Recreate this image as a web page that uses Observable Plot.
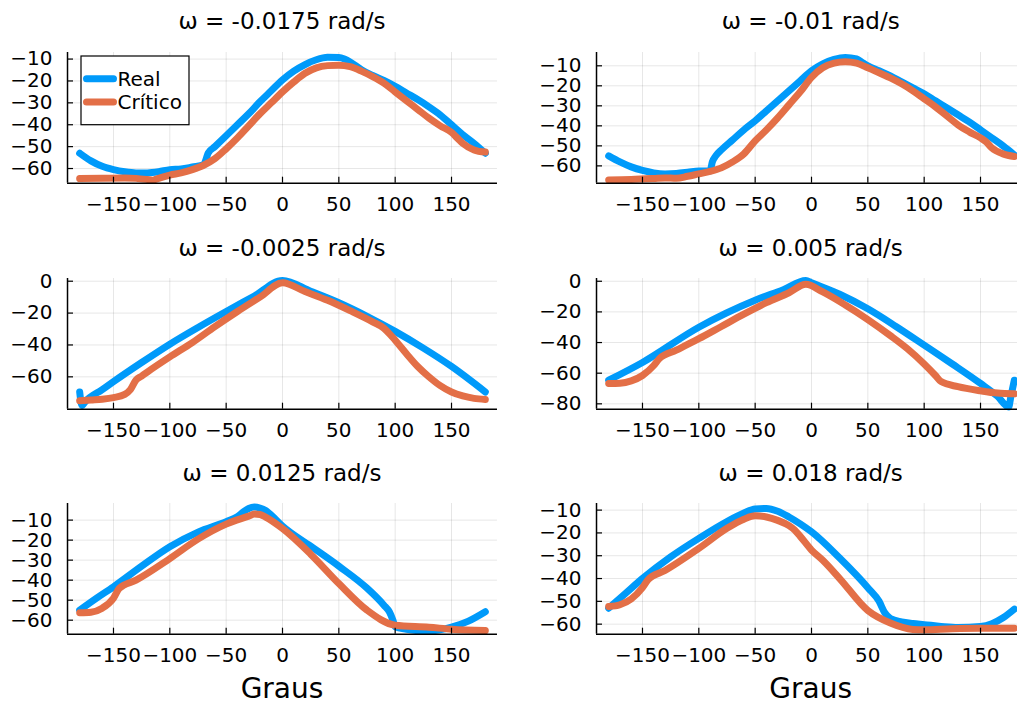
<!DOCTYPE html>
<html>
<head>
<meta charset="utf-8">
<script src="https://cdn.jsdelivr.net/npm/d3@7"></script>
<script src="https://cdn.jsdelivr.net/npm/@observablehq/plot@0.6"></script>
<style>
  html, body { margin: 0; padding: 0; background: #fff; overflow: hidden; }
  #root { position: relative; width: 1017px; height: 704px; overflow: hidden; font-family: "DejaVu Sans", sans-serif; }
  .panel { position: absolute; }
  .panel svg { max-width: none !important; }
  #overlay { position: absolute; left: 0; top: 0; pointer-events: none; }
</style>
</head>
<body>
<div id="root"></div>
<script>
// ---------- data ----------
const titles = ["ω = -0.0175 rad/s", "ω = -0.01 rad/s", "ω = -0.0025 rad/s", "ω = 0.005 rad/s", "ω = 0.0125 rad/s", "ω = 0.018 rad/s"];
const seriesNames = ["Real", "Crítico"];
const xLabel = "Graus";
const xTicks = [-150, -100, -50, 0, 50, 100, 150];
const xDomain = [-190.8, 190.8];

const yTicks1 = [-60, -50, -40, -30, -20, -10];
const yTicks3 = [-60, -40, -20, 0];
const yTicks4 = [-80, -60, -40, -20, 0];
const yDomain1 = [-66.7, -7.0];
const yDomain2 = [-68.65, -3.35];
const yDomain3 = [-80.3, 1.7];
const yDomain4 = [-83.5, 1.8];
const yDomain5 = [-67, -1.7];
const yDomain6 = [-64.4, -7.1];

// panel 1: ω = -0.0175
const p1RealX = [-180,-170,-160,-150,-140,-130,-120,-110,-100,-90,-80,-70,-68,-66,-60,-50,-40,-30,-20,-10,0,10,20,30,40,50,55,60,65,70,80,90,100,110,120,130,140,150,160,170,180];
const p1RealY = [-53,-56.5,-59,-60.5,-61.5,-62,-62,-61.5,-60.5,-60.2,-59.3,-58.3,-56,-53,-50,-45,-40,-35,-29.5,-24.5,-19.5,-15.5,-12.5,-10.3,-9.2,-9.3,-10,-11.3,-13,-14.8,-17.5,-19.8,-22.5,-25.5,-28.5,-31.8,-35.5,-40,-44.5,-48.5,-53];
const p1CritX = [-180,-160,-140,-130,-120,-115,-110,-100,-90,-80,-70,-60,-50,-40,-30,-20,-10,0,10,20,30,40,50,60,70,80,90,100,110,120,130,140,150,155,160,170,180];
const p1CritY = [-64.6,-64.4,-64.3,-64.5,-65,-65.3,-64.5,-63,-62,-60.5,-58.5,-55.5,-51,-46,-40.5,-35,-30,-25,-20.5,-16.5,-14,-13,-12.8,-13.5,-15.5,-18,-21,-25,-29,-33,-37,-40.5,-43.5,-46,-48.5,-51.5,-52.5];

// panel 2: ω = -0.01
const p2RealX = [-180,-170,-160,-150,-140,-130,-120,-110,-100,-90,-88,-85,-80,-70,-60,-50,-40,-30,-20,-10,0,10,20,30,40,45,50,60,70,80,90,100,110,120,130,140,150,160,170,180];
const p2RealY = [-55,-58,-60.5,-62.3,-63.5,-64,-63.8,-63.2,-62.5,-62.5,-58,-55,-52,-47,-42,-37.5,-32.5,-27.5,-22.5,-17.5,-12.5,-9,-6.8,-5.8,-6.5,-8.3,-10,-12.5,-15,-18,-21,-24,-27.5,-31,-34.5,-38,-42,-46,-50,-54.5];
const p2CritX = [-180,-160,-140,-130,-120,-110,-100,-90,-80,-70,-60,-50,-40,-30,-20,-10,0,10,20,30,40,50,60,70,80,90,100,110,120,130,140,150,155,160,170,180];
const p2CritY = [-67,-66.8,-66.3,-66,-66.2,-65.2,-64,-62.8,-61,-58,-54,-47.5,-42,-36,-29.5,-23,-15.8,-11,-8.7,-8,-8.7,-11,-13.5,-16,-19,-22.5,-26.5,-30.5,-35,-39.5,-43,-46,-48,-51,-54,-55.3];

// panel 3: ω = -0.0025
const p3RealX = [-180,-178,-175,-160,-150,-125,-100,-75,-50,-25,0,25,50,75,100,125,150,180];
const p3RealY = [-69.5,-78,-75.5,-68,-63,-51,-39.5,-29,-19,-9.3,0.5,-6.3,-13.5,-22,-31.5,-42,-53.5,-69.5];
const p3CritX = [-180,-170,-160,-150,-140,-135,-130,-125,-120,-100,-80,-60,-40,-20,0,20,40,60,80,90,95,100,110,120,130,140,150,160,170,180];
const p3CritY = [-75,-74.5,-74,-73,-71,-68,-62,-59.5,-57,-47.5,-38.5,-28.5,-19,-10,-1,-6.5,-12,-18.5,-25.5,-29.5,-33,-37,-45.5,-53.5,-60,-65.5,-69.5,-72,-73.5,-74.2];

// panel 4: ω = 0.005
const p4RealX = [-180,-150,-100,-50,-25,-5,0,25,50,75,100,125,150,165,175,177,180];
const p4RealY = [-64.6,-53,-30,-12.4,-5.5,0.5,-1,-8.5,-18,-29.5,-41.7,-54,-66.7,-75,-82,-75,-64.6];
const p4CritX = [-180,-170,-160,-150,-140,-135,-120,-100,-80,-60,-40,-20,-5,10,30,50,70,85,100,110,115,130,150,165,180];
const p4CritY = [-66.7,-66.5,-65,-61.5,-55,-50.5,-45,-37.5,-29.5,-21.5,-14,-7.5,-2,-7,-15.5,-25,-35.5,-44,-54,-61.5,-65.5,-68.8,-71.5,-73,-73.5];

// panel 5: ω = 0.0125
const p5RealX = [-180,-165,-150,-125,-100,-75,-50,-40,-35,-30,-25,-20,-15,-10,0,25,50,75,90,95,98,100,110,130,150,165,180];
const p5RealY = [-55,-49,-43.3,-33,-23.3,-16,-10.8,-8.3,-6,-4.2,-3.5,-4,-5.2,-7.5,-13,-23,-33,-44,-52.5,-56,-60,-63.3,-64.5,-65.5,-63.5,-60.5,-55.8];
const p5CritX = [-180,-170,-160,-150,-145,-130,-100,-75,-50,-30,-25,-20,-15,0,25,50,75,100,130,150,180];
const p5CritY = [-56.3,-56,-54,-49,-44.2,-40,-29.2,-19.5,-12,-8,-7,-7.2,-8.5,-14.2,-27,-41.7,-55,-62.5,-63.5,-64.5,-65.2];

// panel 6: ω = 0.018
const p6RealX = [-180,-165,-150,-125,-100,-75,-60,-50,-40,-30,-20,-10,0,25,50,60,65,70,80,90,100,115,130,150,160,170,180];
const p6RealY = [-53,-46.5,-40,-30.5,-22.4,-15,-11.3,-9.5,-9.3,-10.5,-13,-16,-19.5,-31,-44,-50,-55,-57.5,-59,-59.7,-60.2,-61,-61.5,-61,-59.8,-57.2,-53.4];
const p6CritX = [-180,-170,-160,-150,-145,-130,-100,-75,-60,-50,-40,-30,-20,-15,-10,0,10,25,50,70,90,100,125,150,180];
const p6CritY = [-52.3,-51.5,-49,-44,-40.5,-36.5,-26.8,-18,-14,-12.5,-13,-14.5,-16.8,-18.7,-21.5,-27.5,-32,-40,-54,-59.5,-62.3,-62.5,-62,-61.8,-61.8];

// ---------- layout / style ----------
const BLUE = "#009AFA", ORANGE = "#E36F47";
const colLeft = [67, 595.7];
const rowTop = [51.7, 278.3, 503.3];
const plotW = 430, plotH = 130.7;
const M = {left: 67, right: 10, top: 10, bottom: 50};

const panels = [
  {realX: p1RealX, realY: p1RealY, critX: p1CritX, critY: p1CritY, yDomain: yDomain1, yTicks: yTicks1},
  {realX: p2RealX, realY: p2RealY, critX: p2CritX, critY: p2CritY, yDomain: yDomain2, yTicks: yTicks1},
  {realX: p3RealX, realY: p3RealY, critX: p3CritX, critY: p3CritY, yDomain: yDomain3, yTicks: yTicks3},
  {realX: p4RealX, realY: p4RealY, critX: p4CritX, critY: p4CritY, yDomain: yDomain4, yTicks: yTicks4},
  {realX: p5RealX, realY: p5RealY, critX: p5CritX, critY: p5CritY, yDomain: yDomain5, yTicks: yTicks1},
  {realX: p6RealX, realY: p6RealY, critX: p6CritX, critY: p6CritY, yDomain: yDomain6, yTicks: yTicks1},
];

const fmt = d => String(d).replace("-", "\u2212");
const toRows = (xs, ys) => xs.map((x, i) => ({x, y: ys[i]}));

const root = document.getElementById("root");
const W = M.left + plotW + M.right, H = M.top + plotH + M.bottom;

panels.forEach((p, i) => {
  const col = i % 2, row = Math.floor(i / 2);
  const chart = Plot.plot({
    width: W,
    height: H,
    marginLeft: M.left, marginRight: M.right, marginTop: M.top, marginBottom: M.bottom,
    style: {fontSize: "20px", fontFamily: "DejaVu Sans, sans-serif", color: "#000", background: "transparent", overflow: "visible", maxWidth: "none"},
    x: {domain: xDomain, label: null},
    y: {domain: p.yDomain, label: null},
    marks: [
      Plot.gridX(xTicks, {stroke: "#000", strokeOpacity: 0.1, strokeWidth: 1}),
      Plot.gridY(p.yTicks, {stroke: "#000", strokeOpacity: 0.1, strokeWidth: 1}),
      Plot.line(toRows(p.realX, p.realY), {x: "x", y: "y", stroke: BLUE, strokeWidth: 7, curve: "monotone-x", strokeLinecap: "round", strokeLinejoin: "round"}),
      Plot.line(toRows(p.critX, p.critY), {x: "x", y: "y", stroke: ORANGE, strokeWidth: 7, curve: "monotone-x", strokeLinecap: "round", strokeLinejoin: "round"}),
      Plot.ruleX([xDomain[0]], {stroke: "#000", strokeWidth: 1.5}),
      Plot.ruleY([p.yDomain[0]], {stroke: "#000", strokeWidth: 1.5}),
      Plot.axisX(xTicks, {tickSize: -6, tickPadding: 20, tickFormat: fmt, fontSize: 20, label: null, strokeWidth: 1.2}),
      Plot.axisY(p.yTicks, {tickSize: -6, tickPadding: 21, tickFormat: fmt, fontSize: 20, label: null, strokeWidth: 1.2})
    ]
  });
  const div = document.createElement("div");
  div.className = "panel";
  div.style.left = (colLeft[col] - M.left) + "px";
  div.style.top = (rowTop[row] - M.top) + "px";
  div.style.width = W + "px";
  div.style.height = H + "px";
  div.appendChild(chart);
  root.appendChild(div);
});

// overlay: titles, x labels, legend
const NS = "http://www.w3.org/2000/svg";
const svg = document.createElementNS(NS, "svg");
svg.setAttribute("id", "overlay");
svg.setAttribute("width", 1017);
svg.setAttribute("height", 704);
svg.style.fontFamily = "DejaVu Sans, sans-serif";
root.appendChild(svg);
function el(tag, attrs, text) {
  const e = document.createElementNS(NS, tag);
  for (const k in attrs) e.setAttribute(k, attrs[k]);
  if (text != null) e.textContent = text;
  svg.appendChild(e);
  return e;
}
titles.forEach((t, i) => {
  const col = i % 2, row = Math.floor(i / 2);
  el("text", {x: colLeft[col] + plotW / 2, y: rowTop[row] - 22.4, "text-anchor": "middle", "font-size": 23, fill: "#000"}, t);
});
[0, 1].forEach(col => {
  el("text", {x: colLeft[col] + plotW / 2, y: 698, "text-anchor": "middle", "font-size": 28, fill: "#000"}, xLabel);
});
// legend
el("rect", {x: 81, y: 56, width: 108, height: 68.7, fill: "#fff", stroke: "#000", "stroke-width": 1.2});
[[BLUE, 78.7], [ORANGE, 102]].forEach(([c, y], k) => {
  el("line", {x1: 86.5, x2: 113.5, y1: y, y2: y, stroke: c, "stroke-width": 7, "stroke-linecap": "round"});
  el("text", {x: 117.5, y: y + 7.3, "font-size": 20, fill: "#000"}, seriesNames[k]);
});
</script>
</body>
</html>
